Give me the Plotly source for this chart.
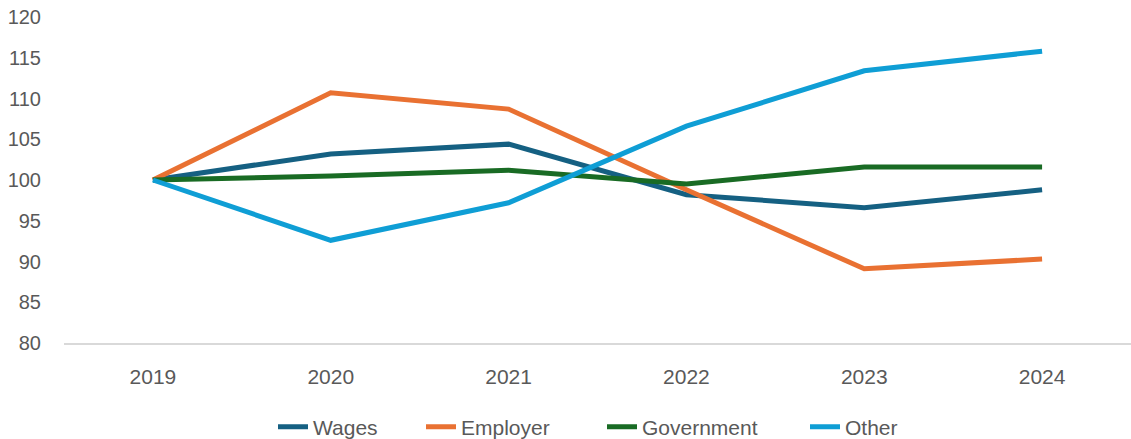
import plotly.graph_objects as go

years = ["2019", "2020", "2021", "2022", "2023", "2024"]
wages = [100, 103.2, 104.4, 98.2, 96.6, 98.8]
employer = [100, 110.7, 108.7, 98.8, 89.1, 90.3]
government = [100, 100.5, 101.2, 99.5, 101.6, 101.6]
other = [100, 92.6, 97.2, 106.6, 113.4, 115.8]

series = [
    ("Wages", wages, "#156082", 313),
    ("Employer", employer, "#E97132", 461),
    ("Government", government, "#196B24", 642),
    ("Other", other, "#0F9ED5", 845),
]

W, H = 1131, 439
fig = go.Figure()
legend_layout = {}
for i, (name, vals, color, text_x) in enumerate(series):
    lg = "legend" if i == 0 else f"legend{i+1}"
    fig.add_trace(go.Scatter(x=years, y=vals, name=name, mode="lines",
                             line=dict(color=color, width=5), legend=lg))
    legend_layout[lg] = dict(
        orientation="h", xref="container", yref="container",
        x=(text_x - 40) / W, xanchor="left",
        y=1 - 427 / H, yanchor="middle",
        font=dict(family="Liberation Sans, Arial", size=21, color="#595959"),
        bgcolor="rgba(0,0,0,0)", borderwidth=0,
    )

fig.update_layout(
    width=W, height=H,
    margin=dict(l=64, r=0, t=17, b=96, autoexpand=False),
    plot_bgcolor="white", paper_bgcolor="white",
    font=dict(family="Liberation Sans, Arial", size=19, color="#595959"),
    showlegend=True,
    xaxis=dict(type="category", range=[-0.5, 5.5], showgrid=False, showline=True,
               linecolor="#D9D9D9", linewidth=1.5, ticks="outside", ticklen=14,
               tickcolor="rgba(0,0,0,0)",
               tickfont=dict(family="Liberation Sans, Arial", size=21), zeroline=False),
    yaxis=dict(range=[80, 120], dtick=5, showgrid=False, zeroline=False, showline=False,
               ticks="", ticklabelstandoff=22,
               tickfont=dict(family="Liberation Sans, Arial", size=20)),
    **legend_layout,
)

fig.write_html("out.html")
